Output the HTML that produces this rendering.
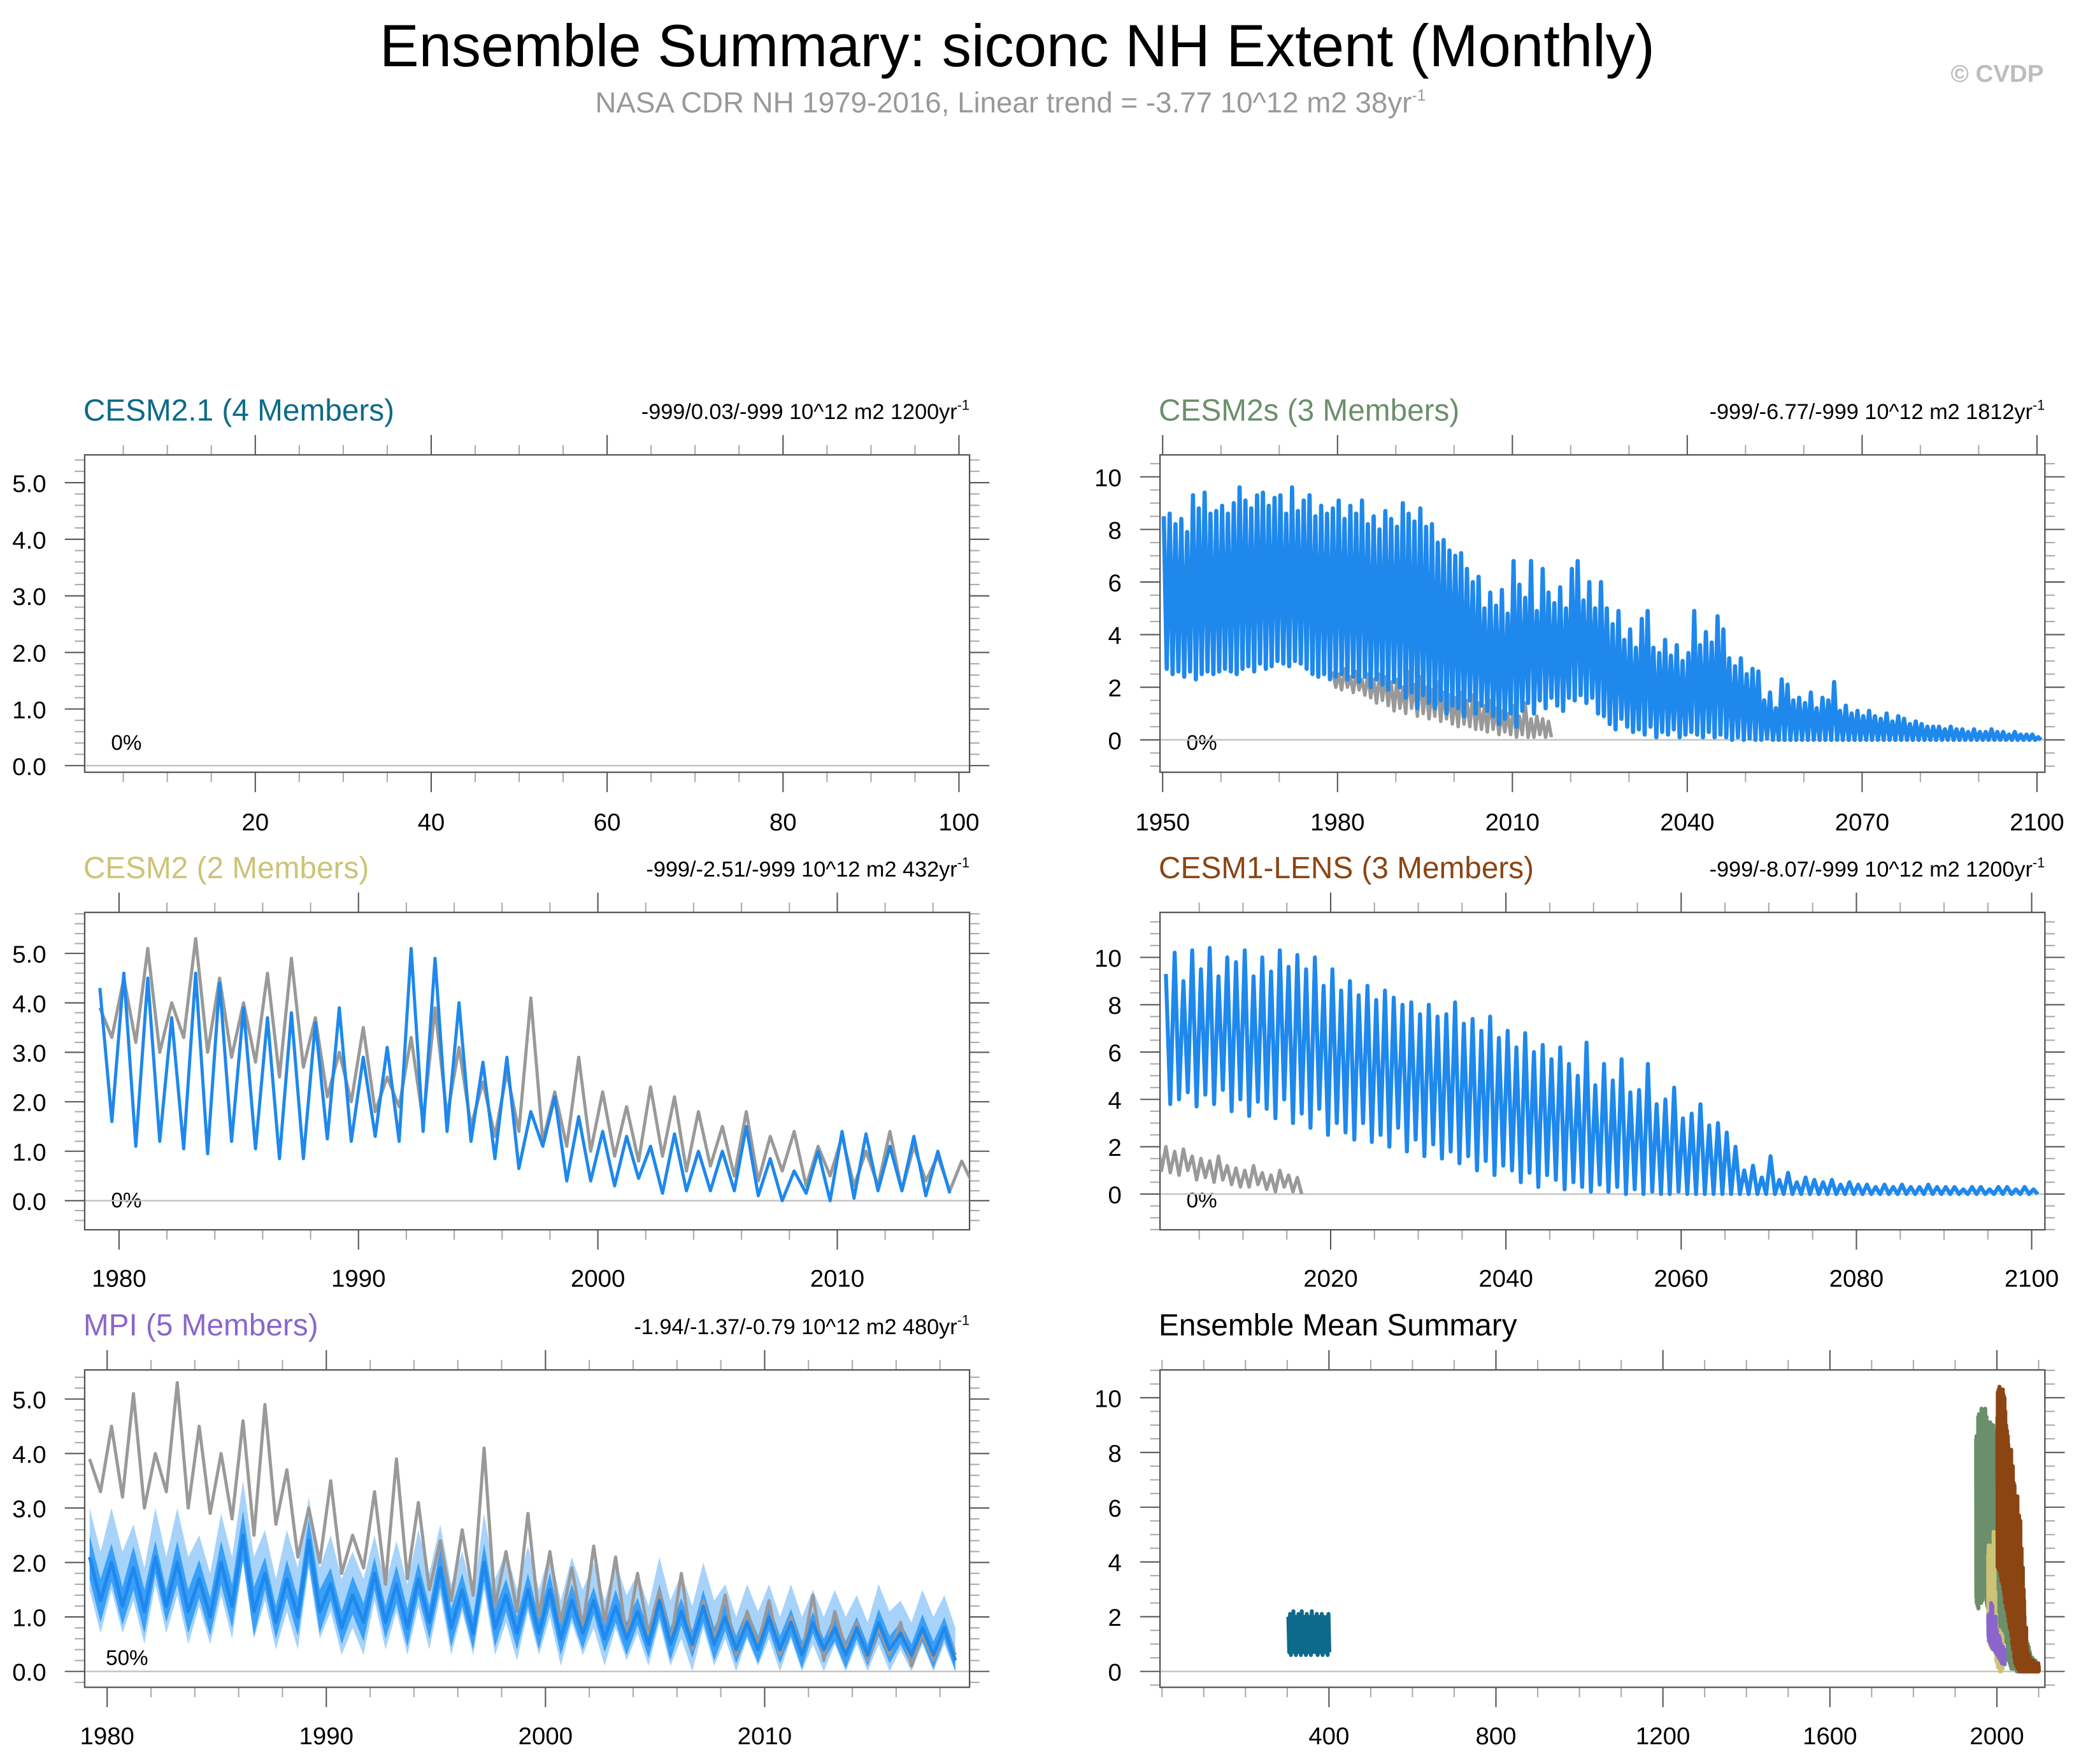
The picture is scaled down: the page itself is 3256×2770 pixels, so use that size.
<!DOCTYPE html>
<html><head><meta charset="utf-8"><title>Ensemble Summary: siconc NH Extent (Monthly)</title>
<style>html,body{margin:0;padding:0;background:#fff}svg{display:block}text{font-family:"Liberation Sans",Arial,sans-serif}</style>
</head><body>
<svg id="chart" xmlns="http://www.w3.org/2000/svg" width="3256" height="2770" viewBox="0 0 1568 1334" preserveAspectRatio="none">
<rect x="0" y="0" width="1568" height="1334" fill="#fff"/>
<text x="287" y="50" font-size="45" textLength="964" lengthAdjust="spacingAndGlyphs">Ensemble Summary: siconc NH Extent (Monthly)</text>
<text x="450" y="85" font-size="22" fill="#999">NASA CDR NH 1979-2016, Linear trend = -3.77 10^12 m2 38yr<tspan font-size="12" dy="-9">-1</tspan></text>
<text x="1545" y="62" font-size="18.5" font-weight="bold" fill="#bdbdbd" text-anchor="end">© CVDP</text>

<text x="63" y="318" font-size="23" fill="#0e6a8a">CESM2.1 (4 Members)</text>
<text x="733" y="317" font-size="16.5" text-anchor="end">-999/0.03/-999 10^12 m2 1200yr<tspan font-size="10.5" dy="-7">-1</tspan></text>
<text x="876" y="318" font-size="23" fill="#6b8f6b">CESM2s (3 Members)</text>
<text x="1546" y="317" font-size="16.5" text-anchor="end">-999/-6.77/-999 10^12 m2 1812yr<tspan font-size="10.5" dy="-7">-1</tspan></text>
<text x="63" y="664" font-size="23" fill="#cdc377">CESM2 (2 Members)</text>
<text x="733" y="663" font-size="16.5" text-anchor="end">-999/-2.51/-999 10^12 m2 432yr<tspan font-size="10.5" dy="-7">-1</tspan></text>
<text x="876" y="664" font-size="23" fill="#8b4513">CESM1-LENS (3 Members)</text>
<text x="1546" y="663" font-size="16.5" text-anchor="end">-999/-8.07/-999 10^12 m2 1200yr<tspan font-size="10.5" dy="-7">-1</tspan></text>
<text x="63" y="1010" font-size="23" fill="#8a66cc">MPI (5 Members)</text>
<text x="733" y="1009" font-size="16.5" text-anchor="end">-1.94/-1.37/-0.79 10^12 m2 480yr<tspan font-size="10.5" dy="-7">-1</tspan></text>
<text x="876" y="1010" font-size="23" fill="#000">Ensemble Mean Summary</text>

<text x="84" y="567" font-size="16">0%</text>
<text x="897" y="567" font-size="16">0%</text>
<text x="84" y="913" font-size="16">0%</text>
<text x="897" y="913" font-size="16">0%</text>
<text x="80" y="1259" font-size="16">50%</text>
<g id="plots"></g>
</svg>
<script>
// ---------- data ----------
const obsYears0 = 1979;
const obsMax = [3.9,4.5,5.1,4.0,5.3,4.5,4.0,4.6,4.9,3.7,3.0,3.5,2.5,3.3,3.9,3.1,2.4,2.6,4.1,2.2,2.9,2.2,1.9,2.3,2.1,1.8,1.5,1.8,1.3,1.4,1.1,1.3,1.0,1.4,1.1,0.9,0.8,0.9,0.7,0.8];
const obsMin = [3.3,3.2,3.0,3.3,3.0,2.9,2.8,2.5,2.7,2.1,2.0,1.8,1.9,1.6,1.7,1.5,1.3,1.4,1.2,1.1,1.0,0.9,0.8,0.9,0.6,0.7,0.5,0.4,0.6,0.3,0.5,0.3,0.3,0.2,0.4,0.2,0.3,0.1,0.2,0.3];

const cesm2Start = 1979;
const cesm2Max = [4.3,4.6,4.5,3.7,4.6,4.4,3.9,3.7,3.8,3.6,3.9,2.9,3.1,5.1,4.9,4.0,2.8,2.9,1.8,2.1,1.7,1.4,1.3,1.1,1.35,1.0,1.0,1.5,0.85,0.6,1.0,1.4,1.35,1.1,1.3,1.0];
const cesm2Min = [1.6,1.1,1.2,1.05,0.95,1.2,1.05,0.85,0.85,1.25,1.2,1.3,1.2,1.4,1.4,1.2,0.85,0.65,1.1,0.4,0.4,0.3,0.45,0.15,0.2,0.2,0.2,0.1,0.0,0.15,0.0,0.05,0.2,0.2,0.1,0.15];

const cesm2sStart = 1950;
const cesm2sMax = [8.5,8.6,8.2,8.4,7.9,9.3,8.8,9.4,8.6,8.7, 8.9,8.6,9.0,9.6,9.1,8.8,9.3,9.4,8.9,9.2, 9.3,8.6,9.6,8.7,9.1,9.3,8.5,8.9,8.6,8.8, 9.1,8.4,8.9,8.6,9.1,8.2,8.5,8.0,8.7,8.4, 8.1,9.0,8.6,8.3,8.8,8.1,8.2,7.5,7.6,7.2, 7.0,7.1,6.5,6.0,6.2,5.0,5.6,5.1,5.7,4.8, 6.8,5.9,5.4,6.8,4.9,6.5,5.6,5.2,5.8,5.0, 6.5,6.8,5.3,6.0,5.0,6.0,5.0,4.4,4.9,3.8, 4.2,3.5,4.6,4.9,3.5,3.3,3.8,3.2,3.6,3.0, 3.3,4.9,3.6,4.1,3.7,4.7,4.2,3.1,2.8,3.1, 2.5,2.7,2.6,1.5,1.8,1.2,2.3,2.1,1.5,1.6, 1.4,1.8,1.2,1.6,1.5,2.2,1.1,1.3,1.0,1.1, 0.9,1.1,0.9,0.8,1.0,0.7,0.9,0.8,0.6,0.7, 0.6,0.5,0.5,0.5,0.4,0.5,0.4,0.4,0.3,0.4, 0.3,0.3,0.4,0.3,0.3,0.2,0.3,0.2,0.2,0.2, 0.1];
const cesm2sMin = [2.7,2.5,2.6,2.4,2.6,2.3,2.5,2.6,2.5,2.6, 2.7,2.6,2.5,2.7,2.8,2.6,2.9,2.7,2.8,3.0, 2.9,2.8,3.0,2.9,2.7,2.5,2.4,2.5,2.3,2.4, 2.5,2.3,2.4,2.2,2.4,2.0,2.3,2.1,1.9,2.2, 2.0,1.6,1.8,1.2,1.7,1.4,1.2,1.5,1.0,1.3, 1.2,0.9,1.5,1.0,1.3,1.1,0.9,0.6,0.8,1.0, 0.5,1.1,1.4,1.0,1.5,1.2,1.6,1.3,1.1,1.6, 1.5,1.7,1.4,1.6,1.0,0.9,0.6,0.4,0.8,0.5, 0.3,0.4,0.2,0.5,0.1,0.3,0.2,0.4,0.1,0.2, 0.3,0.2,0.1,0.3,0.1,0.2,0.1,0.0,0.1,0.0, 0.05,0.0,0.0,0.05,0.0,0.0,0.0,0.0,0.0,0.0, 0.0,0.0,0.0,0.0,0.0,0.0,0.0,0.0,0.0,0.0, 0.0,0.0,0.0,0.0,0.0,0.0,0.0,0.0,0.0,0.0, 0.0,0.0,0.0,0.0,0.0,0.0,0.0,0.0,0.0,0.0, 0.0,0.0,0.0,0.0,0.0,0.0,0.0,0.0,0.0,0.0, 0.0];
const obsSStart = 1979;
const obsSMax = [2.6,2.5,2.7,2.4,2.6,2.3,2.5,2.3,2.5,2.4,2.2,2.3,2.0,2.6,2.1,2.4,2.0,1.9,2.2,1.8,1.7,1.6,1.8,1.5,1.7,1.4,1.3,1.5,1.2,1.1,1.0,1.3,0.9,1.4,0.8,0.9,0.8,0.7];
const obsSMin = [2.0,1.9,2.0,1.8,1.9,1.7,1.6,1.4,1.5,1.3,1.1,1.2,1.0,1.2,0.9,1.0,0.8,0.9,0.7,0.8,0.6,0.5,0.6,0.5,0.4,0.4,0.3,0.4,0.2,0.3,0.2,0.1,0.2,0.1,0.1,0.2,0.1,0.1];

const lensStart = 2001;
const lensMax = [9.3,10.2,9.0,10.3,9.5,10.4,9.2,10.0,9.8,10.3, 9.2,10.0,9.4,10.3,9.6,10.1,9.5,10.0,8.8,9.5, 8.6,9.0,8.4,8.8,8.2,8.6,8.3,8.0,8.1,7.6, 8.0,7.5,7.6,8.1,7.2,7.4,6.9,7.5,6.6,6.9, 6.2,6.8,6.0,6.3,5.7,6.2,5.5,5.0,6.4,4.6, 5.5,4.8,5.7,4.3,4.4,5.5,3.8,4.0,4.5,3.2, 3.4,3.8,2.9,3.0,2.6,2.0,1.0,1.2,0.7,1.6, 0.6,0.9,0.5,0.7,0.6,0.5,0.6,0.4,0.5,0.4, 0.4,0.3,0.4,0.3,0.4,0.3,0.3,0.4,0.3,0.3, 0.3,0.2,0.3,0.3,0.2,0.3,0.3,0.2,0.3,0.2];
const lensMin = [3.8,4.0,4.3,3.7,4.2,3.8,4.4,3.5,4.0,3.3, 3.9,3.6,3.2,4.0,3.0,3.4,2.8,3.6,2.5,3.0, 2.6,2.3,3.0,2.2,2.5,2.0,2.8,1.8,2.3,1.6, 2.1,1.5,1.8,1.3,1.6,1.0,1.4,0.8,1.2,1.0, 0.5,0.9,0.3,0.8,0.6,0.2,0.5,0.3,0.1,0.4, 0.1,0.3,0.0,0.2,0.0,0.1,0.0,0.0,0.1,0.0, 0.0,0.0,0.0,0.0,0.0,0.0,0.0,0.0,0.0,0.0, 0.0,0.0,0.0,0.0,0.0,0.0,0.0,0.0,0.0,0.0, 0.0,0.0,0.0,0.0,0.0,0.0,0.0,0.0,0.0,0.0, 0.0,0.0,0.0,0.0,0.0,0.0,0.0,0.0,0.0,0.0];
const obsLStart = 2000;
const obsLMax = [2.3,2.0,1.8,1.9,1.6,1.5,1.4,1.6,1.2,1.1,1.0,1.2,0.9,0.8,1.0,0.8,0.7];
const obsLMin = [1.0,0.9,0.8,1.0,0.6,0.7,0.5,0.6,0.4,0.3,0.3,0.4,0.2,0.1,0.3,0.1,0.0];

const mpiStart = 1979;
const mpiMax = [2.1,2.0,1.9,2.1,2.0,1.7,2.0,2.5,1.8,1.7,2.4,1.6,1.4,1.8,1.6,1.7,1.9,1.5,2.0,1.4,1.5,1.5,1.3,1.3,1.2,1.1,1.3,1.1,1.2,1.0,0.9,1.0,0.9,0.9,0.8,0.8,0.9,0.7,0.8,0.8];
const mpiMin = [1.3,1.2,1.1,1.2,1.1,1.0,1.2,1.1,0.9,1.0,1.1,0.8,0.9,0.9,0.8,0.9,0.8,0.7,0.8,0.7,0.7,0.6,0.7,0.6,0.6,0.5,0.5,0.5,0.5,0.4,0.4,0.4,0.3,0.4,0.3,0.3,0.4,0.3,0.3,0.2];
const mpiLightUp = [0.9,1.0,0.8,0.9,1.0,0.8,0.9,1.0,0.8,0.9,0.8,0.9,0.8,0.7,0.8,0.9,0.8,0.7,0.9,0.8,0.8,0.7,0.8,0.7,0.8,0.7,0.8,0.7,0.8,0.6,0.7,0.6,0.7,0.6,0.7,0.6,0.7,0.6,0.7,0.6];
const mpiLightDn = [0.6,0.5,0.6,0.5,0.6,0.5,0.6,0.5,0.5,0.6,0.5,0.5,0.6,0.5,0.5,0.5,0.5,0.4,0.5,0.5,0.4,0.5,0.4,0.5,0.4,0.4,0.4,0.5,0.4,0.4,0.3,0.4,0.3,0.4,0.3,0.3,0.4,0.3,0.3,0.3];
const mpiDarkSp = [0.4,0.35,0.4,0.3,0.4,0.35,0.4,0.45,0.3,0.35,0.4,0.3,0.35,0.3,0.35,0.3,0.35,0.3,0.35,0.3,0.3,0.3,0.3,0.25,0.3,0.25,0.3,0.25,0.3,0.25,0.25,0.25,0.25,0.2,0.25,0.2,0.25,0.2,0.25,0.2];

const cesm21Start = 302;
const cesm21Step = 4;
const cesm21Max = [2.0,2.1,1.9,2.2,2.0,1.9,2.1,2.0,2.2,1.9,2.0,2.1,1.9,2.0,2.2,2.0,1.9,2.1,2.0,1.9,2.1,2.0,1.9,2.0,2.1];
const cesm21Min = [0.7,0.6,0.8,0.7,0.6,0.7,0.8,0.6,0.7,0.7,0.6,0.8,0.7,0.6,0.7,0.8,0.7,0.6,0.7,0.7,0.6,0.8,0.7,0.6,0.7];

const yLabels5 = ["0.0","1.0","2.0","3.0","4.0","5.0"];
const yLabels10 = ["0","2","4","6","8","10"];
const xLabelsP1 = ["20","40","60","80","100"];
const xLabelsP2 = ["1950","1980","2010","2040","2070","2100"];
const xLabelsP3 = ["1980","1990","2000","2010"];
const xLabelsP4 = ["2020","2040","2060","2080","2100"];
const xLabelsP5 = ["1980","1990","2000","2010"];
const xLabelsP6 = ["400","800","1200","1600","2000"];

// ---------- drawing ----------
const NS = "http://www.w3.org/2000/svg";
const root = document.getElementById("plots");
function el(tag, attrs, parent){ const e=document.createElementNS(NS,tag); for(const k in attrs) e.setAttribute(k,attrs[k]); (parent||root).appendChild(e); return e; }

const panels = {
  p1:{x0:64,x1:733,y0:344,y1:584, sx:v=>60+v*6.65, sy:v=>579-v*42.8, xmaj:20, xmin:5, xlo:0, xhi:101, ymaj:1, ymin:0.2, ylo:-0.12, yhi:5.49, ylab:yLabels5, xlab:xLabelsP1, xfirst:20, lab:628},
  p2:{x0:877,x1:1546,y0:344,y1:584, sx:v=>879+(v-1950)*4.4067, sy:v=>559.5-v*19.89, xmaj:30, xmin:10, xlo:1950, xhi:2101, ymaj:2, ymin:0.5, ylo:-1.23, yhi:10.8, ylab:yLabels10, xlab:xLabelsP2, xfirst:1950, lab:628},
  p3:{x0:64,x1:733,y0:690,y1:930, sx:v=>90+(v-1980)*18.1, sy:v=>908-v*37.4, xmaj:10, xmin:2, xlo:1978, xhi:2015.1, ymaj:1, ymin:0.2, ylo:-0.59, yhi:5.83, ylab:yLabels5, xlab:xLabelsP3, xfirst:1980, lab:973},
  p4:{x0:877,x1:1546,y0:690,y1:930, sx:v=>1006+(v-2020)*6.625, sy:v=>903-v*17.9, xmaj:20, xmin:5, xlo:2000, xhi:2101.5, ymaj:2, ymin:0.5, ylo:-1.5, yhi:11.9, ylab:yLabels10, xlab:xLabelsP4, xfirst:2020, lab:973},
  p5:{x0:64,x1:733,y0:1036,y1:1276, sx:v=>81+(v-1980)*16.57, sy:v=>1264-v*41.2, xmaj:10, xmin:2, xlo:1978, xhi:2019.5, ymaj:1, ymin:0.2, ylo:-0.29, yhi:5.53, ylab:yLabels5, xlab:xLabelsP5, xfirst:1980, lab:1319},
  p6:{x0:877,x1:1546,y0:1036,y1:1276, sx:v=>878.5+v*0.3156, sy:v=>1264-v*20.7, xmaj:400, xmin:100, xlo:0, xhi:2120, ymaj:2, ymin:0.5, ylo:-0.58, yhi:11.0, ylab:yLabels10, xlab:xLabelsP6, xfirst:400, lab:1319}
};

function axes(key){
  const p=panels[key];
  const g=el("g",{});
  
  
  const cp=el("clipPath",{id:"clip-"+key});
  el("rect",{x:p.x0,y:p.y0,width:p.x1-p.x0,height:p.y1-p.y0},cp);
  const nMin=Math.ceil(p.ylo/p.ymin-1e-6), nMax=Math.floor(p.yhi/p.ymin+1e-6);
  for(let i=nMin;i<=nMax;i++){
    const v=i*p.ymin, y=p.sy(v);
    const isMaj=Math.abs(v/p.ymaj-Math.round(v/p.ymaj))<1e-6 && v>=0 && Math.round(v/p.ymaj)<p.ylab.length;
    const len=isMaj?15:7.5, col=isMaj?"#555":"#aaa";
    el("line",{x1:p.x0-len,y1:y,x2:p.x0,y2:y,stroke:col,"stroke-width":1},g);
    el("line",{x1:p.x1,y1:y,x2:p.x1+len,y2:y,stroke:col,"stroke-width":1},g);
  }
  p.ylab.forEach((t,i)=>{
    const tx=el("text",{x:p.x0-29,y:p.sy(i*p.ymaj)+7,"font-size":18.5,"text-anchor":"end"},g);
    tx.textContent=t;
    
    
  });
  const xs=Math.ceil(p.xlo/p.xmin), xe=Math.floor(p.xhi/p.xmin);
  for(let i=xs;i<=xe;i++){
    const v=i*p.xmin, x=p.sx(v);
    if(x<p.x0-0.5||x>p.x1+0.5) continue;
    const isMaj=((v-p.xfirst)%p.xmaj===0)&&v>=p.xfirst;
    const len=isMaj?15:7.5, col=isMaj?"#555":"#aaa";
    el("line",{x1:x,y1:p.y0-len,x2:x,y2:p.y0,stroke:col,"stroke-width":1},g);
    el("line",{x1:x,y1:p.y1,x2:x,y2:p.y1+len,stroke:col,"stroke-width":1},g);
  }
  p.xlab.forEach((t,i)=>{
    const tx=el("text",{x:p.sx(p.xfirst+i*p.xmaj),y:p.lab,"font-size":18.5,"text-anchor":"middle"},g);
    tx.textContent=t;
    
    
  });
  const z=el("line",{x1:p.x0,y1:p.sy(0),x2:p.x1,y2:p.sy(0),stroke:"#c4c4c4","stroke-width":1.2},g);
  
  
  const fr=el("rect",{x:p.x0,y:p.y0,width:p.x1-p.x0,height:p.y1-p.y0,fill:"none",stroke:"#555","stroke-width":1.1},g);
  
  
  return g;
}

function zig(key,start,maxA,minA,step){
  const p=panels[key]; step=step||1; const pts=[];
  for(let i=0;i<maxA.length;i++){
    const yr=start+i*step;
    pts.push(p.sx(yr+0.2*step).toFixed(2)+","+p.sy(maxA[i]).toFixed(2));
    if(i<minA.length) pts.push(p.sx(yr+0.7*step).toFixed(2)+","+p.sy(minA[i]).toFixed(2));
  }
  return pts.join(" ");
}
function series(key,name,start,maxA,minA,color,w,step){
  const pl=el("polyline",{points:zig(key,start,maxA,minA,step),fill:"none",stroke:color,"stroke-width":w,"stroke-linejoin":"round","clip-path":"url(#clip-"+key+")"});
  
  
  return pl;
}
function band(key,name,start,maxA,minA,upA,dnA,color){
  const p=panels[key]; const top=[],bot=[];
  for(let i=0;i<maxA.length;i++){
    const yr=start+i;
    top.push(p.sx(yr+0.2).toFixed(2)+","+p.sy(maxA[i]+upA[i]).toFixed(2));
    top.push(p.sx(yr+0.7).toFixed(2)+","+p.sy(minA[i]+upA[i]).toFixed(2));
    bot.push(p.sx(yr+0.2).toFixed(2)+","+p.sy(Math.max(0,maxA[i]-dnA[i])).toFixed(2));
    bot.push(p.sx(yr+0.7).toFixed(2)+","+p.sy(Math.max(0,minA[i]-dnA[i])).toFixed(2));
  }
  const pg=el("polygon",{points:top.concat(bot.reverse()).join(" "),fill:color,stroke:"none","clip-path":"url(#clip-"+key+")"});
  
  
}

const BLUE="#1e88ec", GRAY="#999999";
axes("p1");
axes("p2");
series("p2","cesm2s-obs-line",obsSStart,obsSMax,obsSMin,GRAY,2.6);
series("p2","cesm2s-ensemble-line",cesm2sStart,cesm2sMax,cesm2sMin,BLUE,3.2);
axes("p3");
series("p3","cesm2-obs-line",obsYears0,obsMax,obsMin,GRAY,2.4);
series("p3","cesm2-ensemble-line",cesm2Start,cesm2Max,cesm2Min,BLUE,2.4);
axes("p4");
series("p4","cesm1-lens-obs-line",obsLStart,obsLMax,obsLMin,GRAY,2.6);
series("p4","cesm1-lens-ensemble-line",lensStart,lensMax,lensMin,BLUE,3);
axes("p5");
band("p5","mpi-spread-light",mpiStart,mpiMax,mpiMin,mpiLightUp,mpiLightDn,"#a7d3fb");
band("p5","mpi-spread-dark",mpiStart,mpiMax,mpiMin,mpiDarkSp,mpiDarkSp,"#3a9ff7");
series("p5","mpi-obs-line",obsYears0,obsMax,obsMin,GRAY,2.4);
series("p5","mpi-ensemble-mean-line",mpiStart,mpiMax,mpiMin,BLUE,2.6);
axes("p6");
series("p6","summary-cesm21",cesm21Start,cesm21Max,cesm21Min,"#0e6a8a",3,cesm21Step);
series("p6","summary-cesm2s",cesm2sStart,cesm2sMax,cesm2sMin,"#6b8f6b",3);
series("p6","summary-cesm2",cesm2Start,cesm2Max,cesm2Min,"#cdc377",3);
series("p6","summary-mpi",mpiStart,mpiMax,mpiMin,"#8a66cc",3);
series("p6","summary-cesm1-lens",lensStart,lensMax,lensMin,"#8b4513",3);
</script>
</body></html>
